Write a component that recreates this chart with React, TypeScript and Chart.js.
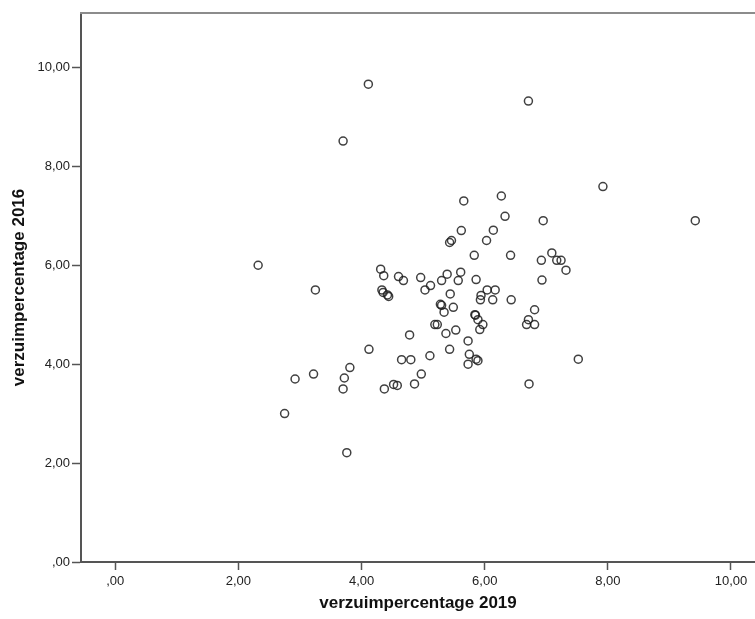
import React, { useEffect, useRef } from "react";
import { Chart, registerables } from "chart.js";

Chart.register(...registerables);

// verzuimpercentage 2019 (x) and 2016 (y)
const verzuim2019: number[] = [
  2.32, 3.25, 5.66, 6.27, 6.33, 5.62, 6.14, 5.43, 5.46, 6.03,
  5.83, 6.42, 4.31, 4.36, 4.60, 4.68, 4.96, 5.12, 5.03, 5.30,
  5.39, 5.61, 5.57, 5.86, 4.33, 4.35, 4.42, 4.44, 5.44, 5.94,
  5.93, 6.04, 6.17, 6.13, 6.43, 5.28, 5.30, 5.49, 5.34, 5.84,
  5.85, 5.89, 5.97, 5.92, 5.19, 5.23, 5.37, 5.53, 4.78, 5.73,
  4.12, 5.43, 5.11, 4.65, 4.80, 5.75, 5.73, 5.86, 5.89, 3.81,
  3.72, 3.70, 2.92, 3.22, 2.75, 3.76, 4.37, 4.52, 4.58, 4.86,
  4.97, 7.92, 9.42, 6.95, 7.09, 6.92, 7.17, 7.24, 7.32, 6.93,
  6.81, 6.71, 6.68, 6.81, 7.52, 6.72, 4.11, 6.71, 3.70,
];
const verzuim2016: number[] = [
  6.00, 5.50, 7.30, 7.40, 6.99, 6.70, 6.71, 6.46, 6.50, 6.50,
  6.20, 6.20, 5.92, 5.79, 5.77, 5.69, 5.75, 5.59, 5.50, 5.69,
  5.82, 5.86, 5.69, 5.71, 5.50, 5.45, 5.40, 5.37, 5.42, 5.39,
  5.30, 5.50, 5.50, 5.30, 5.30, 5.21, 5.19, 5.15, 5.05, 5.00,
  4.99, 4.90, 4.80, 4.70, 4.80, 4.80, 4.62, 4.69, 4.59, 4.47,
  4.30, 4.30, 4.17, 4.09, 4.09, 4.20, 4.00, 4.10, 4.07, 3.93,
  3.72, 3.50, 3.70, 3.80, 3.00, 2.21, 3.50, 3.59, 3.57, 3.60,
  3.80, 7.59, 6.90, 6.90, 6.25, 6.10, 6.10, 6.10, 5.90, 5.70,
  5.10, 4.90, 4.80, 4.80, 4.10, 3.60, 9.66, 9.32, 8.51,
];

const xTickValues: number[] = [0, 2, 4, 6, 8, 10];
const xTickLabels: string[] = [",00", "2,00", "4,00", "6,00", "8,00", "10,00"];
const yTickValues: number[] = [0, 2, 4, 6, 8, 10];
const yTickLabels: string[] = [",00", "2,00", "4,00", "6,00", "8,00", "10,00"];

const xTitle = "verzuimpercentage 2019";
const yTitle = "verzuimpercentage 2016";

const FONT = "'Liberation Sans', Arial, sans-serif";

const framePlugin = {
  id: "frameTop",
  afterDraw(chart: any) {
    const { ctx, chartArea } = chart;
    ctx.save();
    ctx.strokeStyle = "#8c8c8c";
    ctx.lineWidth = 2;
    ctx.beginPath();
    ctx.moveTo(chartArea.left - 1, chartArea.top);
    ctx.lineTo(chart.width, chartArea.top);
    ctx.stroke();
    ctx.restore();
  },
};

export default function App() {
  const ref = useRef<HTMLCanvasElement | null>(null);

  useEffect(() => {
    if (!ref.current) return;
    const data = verzuim2019.map((x, i) => ({ x, y: verzuim2016[i] }));
    const chart = new Chart(ref.current, {
      type: "scatter",
      data: {
        datasets: [
          {
            data,
            pointRadius: 4,
            pointHoverRadius: 4,
            pointBorderWidth: 1.5,
            borderColor: "rgba(30,30,30,0.85)",
            backgroundColor: "rgba(0,0,0,0)",
          },
        ],
      },
      options: {
        responsive: false,
        animation: false,
        devicePixelRatio: 1,
        layout: { autoPadding: false, padding: { top: 13, right: 0, left: 0, bottom: 0 } },
        plugins: { legend: { display: false }, tooltip: { enabled: false } },
        scales: {
          x: {
            type: "linear",
            min: -0.557,
            max: 10.39,
            afterBuildTicks: (scale: any) => {
              scale.ticks = xTickValues.map((v) => ({ value: v }));
            },
            afterFit: (scale: any) => {
              scale.height = 57;
              scale.paddingLeft = 0;
              scale.paddingRight = 0;
            },
            ticks: {
              callback: (v: any) => {
                const i = xTickValues.indexOf(Number(v));
                return i >= 0 ? xTickLabels[i] : "";
              },
              font: { family: FONT, size: 13 },
              color: "#222",
              padding: 4,
              maxRotation: 0,
              autoSkip: false,
            },
            grid: {
              display: true,
              drawOnChartArea: false,
              drawTicks: true,
              tickLength: 8,
              tickColor: "#555",
              tickWidth: 1.5,
            },
            border: { display: true, color: "#555", width: 2 },
            title: {
              display: true,
              text: xTitle,
              font: { family: FONT, size: 17, weight: "bold" },
              color: "#111",
              padding: { top: 0, bottom: 5 },
            },
          },
          y: {
            type: "linear",
            min: 0,
            max: 11.1,
            afterBuildTicks: (scale: any) => {
              scale.ticks = yTickValues.map((v) => ({ value: v }));
            },
            afterFit: (scale: any) => {
              scale.width = 81;
              scale.paddingTop = 0;
              scale.paddingBottom = 0;
            },
            ticks: {
              callback: (v: any) => {
                const i = yTickValues.indexOf(Number(v));
                return i >= 0 ? yTickLabels[i] : "";
              },
              font: { family: FONT, size: 13 },
              color: "#222",
              padding: 2,
              autoSkip: false,
            },
            grid: {
              display: true,
              drawOnChartArea: false,
              drawTicks: true,
              tickLength: 9,
              tickColor: "#555",
              tickWidth: 1.5,
            },
            border: { display: true, color: "#555", width: 2 },
            title: {
              display: true,
              text: yTitle,
              font: { family: FONT, size: 17, weight: "bold" },
              color: "#111",
              padding: { top: 9, bottom: 0 },
            },
          },
        },
      },
      plugins: [framePlugin],
    });
    return () => chart.destroy();
  }, []);

  return (
    <div
      style={{
        position: "absolute",
        left: 0,
        top: 0,
        width: 755,
        height: 619,
        overflow: "hidden",
        background: "#fff",
      }}
    >
      <canvas ref={ref} width={755} height={619} style={{ display: "block" }} />
    </div>
  );
}
